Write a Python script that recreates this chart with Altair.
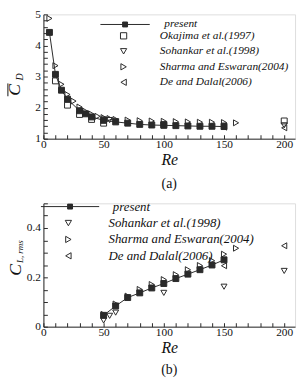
import altair as alt
import pandas as pd

FONT = "Liberation Serif"
INK = "#2a2a2a"

# ---------------- panel (a): mean drag coefficient ----------------
series_a = ["present", "Okajima et al.(1997)", "Sohankar et al.(1998)",
            "Sharma and Eswaran(2004)", "De and Dalal(2006)"]
shapes_a = ["square", "square", "triangle-down", "triangle-right", "triangle-left"]

present_re_a = [5, 10, 15, 20, 30, 35, 40, 50, 60, 70, 80, 90, 100, 110, 120, 130, 140, 150]
present_cd = [4.42, 3.07, 2.56, 2.27, 1.90, 1.80, 1.70, 1.59, 1.54, 1.50, 1.46, 1.44, 1.43,
              1.42, 1.41, 1.40, 1.40, 1.39]
okajima_re = [10, 20, 30, 40, 50, 100, 200]
okajima_cd = [2.86, 2.08, 1.78, 1.62, 1.50, 1.45, 1.57]
sohankar_re_a = [50, 55, 60, 100, 150, 200]
sohankar_cd = [1.62, 1.60, 1.56, 1.46, 1.42, 1.43]
sharma_re_a = [5, 10, 15, 20, 25, 30, 35, 40, 45, 50, 55, 60, 70, 80, 90, 100, 110, 120,
               130, 140, 150, 160]
sharma_cd = [4.87, 3.35, 2.75, 2.42, 2.21, 2.02, 1.88, 1.79, 1.72, 1.68, 1.65, 1.62, 1.60,
             1.58, 1.57, 1.56, 1.55, 1.54, 1.53, 1.53, 1.52, 1.51]
de_re_a = [150, 200]
de_cd = [1.37, 1.35]

# ---------------- panel (b): rms lift coefficient ----------------
series_b = ["present", "Sohankar et al.(1998)", "Sharma and Eswaran(2004)", "De and Dalal(2006)"]
shapes_b = ["square", "triangle-down", "triangle-right", "triangle-left"]

present_re_b = [50, 60, 70, 80, 90, 100, 110, 120, 130, 140, 150]
present_cl = [0.046, 0.084, 0.118, 0.137, 0.157, 0.175, 0.195, 0.213, 0.231, 0.250, 0.271]
sohankar_re_b = [50, 55, 60, 100, 150, 200]
sohankar_cl = [0.025, 0.044, 0.057, 0.137, 0.162, 0.226]
sharma_re_b = [50, 60, 70, 80, 90, 100, 110, 120, 130, 140, 150, 160]
sharma_cl = [0.050, 0.092, 0.124, 0.151, 0.171, 0.191, 0.211, 0.231, 0.248, 0.268, 0.294, 0.318]
de_re_b = [150, 200]
de_cl = [0.247, 0.328]


def frame(pairs):
    rows = []
    for name, xs, ys in pairs:
        for x, y in zip(xs, ys):
            rows.append({"Re": x, "v": y, "series": name, "lname": name})
    return pd.DataFrame(rows)


df_a = frame([
    ("present", present_re_a, present_cd),
    ("Okajima et al.(1997)", okajima_re, okajima_cd),
    ("Sohankar et al.(1998)", sohankar_re_a, sohankar_cd),
    ("Sharma and Eswaran(2004)", sharma_re_a, sharma_cd),
    ("De and Dalal(2006)", de_re_a, de_cd),
])
df_b = frame([
    ("present", present_re_b, present_cl),
    ("Sohankar et al.(1998)", sohankar_re_b, sohankar_cl),
    ("Sharma and Eswaran(2004)", sharma_re_b, sharma_cl),
    ("De and Dalal(2006)", de_re_b, de_cl),
])

W = 255
X_DOMAIN = [0, 209]
x_ticks = list(range(0, 210, 10))


def x_axis():
    return alt.Axis(values=x_ticks, labelExpr="datum.value % 50 == 0 ? datum.label : ''",
                    tickSize=alt.ExprRef(expr="-4"), labelFlush=False, labelPadding=4,
                    title="Re", titleFont=FONT, titleFontStyle="italic", titleFontSize=16,
                    titleFontWeight="normal", titlePadding=2, titleColor="#111",
                    labelFont=FONT, labelFontSize=11.5, labelColor="#111",
                    domainColor=INK, tickColor=INK, grid=False)


def y_axis(vals, expr):
    return alt.Axis(values=vals, labelExpr=expr, tickSize=alt.ExprRef(expr="-4"),
                    labelFlush=False, labelPadding=7, title=None,
                    labelFont=FONT, labelFontSize=11.5, labelColor="#111",
                    domainColor=INK, tickColor=INK, grid=False)


def panel(df, series, shapes, H, ydom, yvals, yexpr, leg, label, toff, ytitle_layers):
    x = alt.X("Re:Q", scale=alt.Scale(domain=X_DOMAIN, nice=False), axis=x_axis())
    y = alt.Y("v:Q", scale=alt.Scale(domain=ydom, nice=False, zero=False),
              axis=y_axis(yvals, yexpr))
    line = alt.Chart(df).transform_filter(alt.datum.series == "present").mark_line(
        color=INK, strokeWidth=1).encode(
        x=x, y=y,
        color=alt.Color("lname:N", scale=alt.Scale(domain=["present"], range=[INK]),
                        legend=alt.Legend(
                            orient="none", legendX=leg["lx"], legendY=leg["ly"], title=None,
                            symbolType=leg["path"], symbolSize=4, symbolStrokeWidth=1,
                            symbolStrokeColor=INK, symbolFillColor=INK,
                            labelFont=FONT, labelFontStyle="italic", labelFontSize=leg["fs"],
                            labelColor="#111", labelOffset=leg["lo1"])))
    fills = [INK] + ["transparent"] * (len(series) - 1)
    pts = alt.Chart(df).mark_point(strokeWidth=1, stroke=INK, opacity=1, size=36).encode(
        x=x, y=y,
        shape=alt.Shape("series:N", scale=alt.Scale(domain=series, range=shapes),
                        legend=alt.Legend(
                            values=series[1:], orient="none", legendX=leg["sx"],
                            legendY=leg["sy"], title=None, symbolSize=40,
                            symbolStrokeColor=INK, symbolStrokeWidth=1,
                            symbolFillColor="transparent", rowPadding=leg["rp"],
                            labelFont=FONT, labelFontStyle="italic", labelFontSize=leg["fs"],
                            labelColor="#111", labelOffset=leg["lo2"])),
        fill=alt.Fill("series:N", scale=alt.Scale(domain=series, range=fills), legend=None),
    )
    layers = [line, pts] + ytitle_layers
    return alt.layer(*layers).properties(
        width=W, height=H,
        title=alt.TitleParams(label, orient="bottom", font=FONT, fontSize=14,
                              fontWeight="normal", color="#111", offset=toff),
    ).resolve_legend(color="independent", shape="independent")


one = alt.InlineData(values=[{"k": 1}])


def txt(s, x, y, fs, style="italic"):
    return alt.Chart(one).mark_text(
        text=s, angle=270, align="center", baseline="alphabetic", font=FONT,
        fontSize=fs, fontStyle=style, color="#111").encode(x=alt.value(x), y=alt.value(y))


over_a = alt.Chart(one).mark_rule(color="#111", strokeWidth=1).encode(
    x=alt.value(-36), y=alt.value(70), y2=alt.value(83))
ytitle_a = [txt("C", -24, 76.5, 18), txt("D", -21, 63.5, 10), over_a]
ytitle_b = [txt("C", -23, 67.5, 18), txt("L, rms", -21, 49, 9)]

path_a = ("M-25,0H25M-2.5,-2.5H2.5V2.5H-2.5ZM-1.5,-1.5H1.5V1.5H-1.5Z"
          "M-0.5,-0.5H0.5V0.5H-0.5Z")
path_b = ("M-29.5,0H29.5M-2.5,-2.5H2.5V2.5H-2.5ZM-1.5,-1.5H1.5V1.5H-1.5Z"
          "M-0.5,-0.5H0.5V0.5H-0.5Z")

leg_a = dict(lx=77, ly=4.5, sx=75.5, sy=16, rp=2.7, fs=11.5, lo1=34, lo2=31, path=path_a)
leg_b = dict(lx=20.5, ly=-3.2, sx=18.8, sy=13.5, rp=2.6, fs=13, lo1=36.8, lo2=34.2, path=path_b)

ya_vals = [round(1 + 0.2 * i, 2) for i in range(21)]
yb_vals = [round(0.05 * i, 2) for i in range(11)]

chart_a = panel(df_a, series_a, shapes_a, 126, [1, 5], ya_vals,
                "abs(datum.value - round(datum.value)) < 0.001 ? format(datum.value, 'd') : ''",
                leg_a, "(a)", 9.5, ytitle_a)
chart_b = panel(df_b, series_b, shapes_b, 125, [0, 0.5], yb_vals,
                "abs(datum.value * 5 - round(datum.value * 5)) < 0.001 ? format(datum.value, '.1~f') : ''",
                leg_b, "(b)", 7.5, ytitle_b)

chart = alt.vconcat(chart_a, chart_b, spacing=7.5).configure_view(
    stroke=INK, strokeWidth=1).configure(padding={"left": 5, "top": 5, "right": 3, "bottom": 1},
                                          background="white")

chart.save("out.html", embed_options={"renderer": "svg", "actions": False})
